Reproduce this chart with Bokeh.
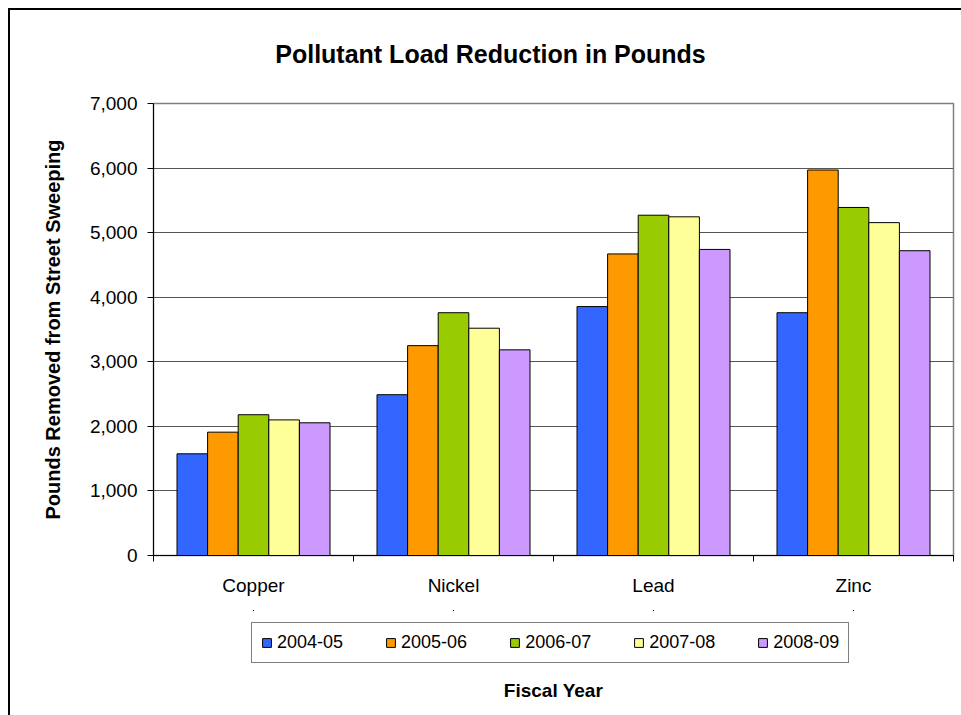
from bokeh.plotting import figure
from bokeh.layouts import column
from bokeh.models import (ColumnDataSource, Range1d, FixedTicker, Legend,
                          LegendItem, NumeralTickFormatter, Label)
from bokeh.transform import dodge
from bokeh.embed import file_html
from bokeh.resources import INLINE

# ---- data ----
categories = ["Copper", "Nickel", "Lead", "Zinc"]
years = ["2004-05", "2005-06", "2006-07", "2007-08", "2008-09"]
v_2004_05 = [1575, 2490, 3855, 3760]
v_2005_06 = [1910, 3250, 4670, 5970]
v_2006_07 = [2180, 3760, 5270, 5390]
v_2007_08 = [2100, 3520, 5245, 5155]
v_2008_09 = [2055, 3185, 4740, 4720]
series = [v_2004_05, v_2005_06, v_2006_07, v_2007_08, v_2008_09]
colors = ["#3366FF", "#FF9900", "#99CC00", "#FFFF99", "#CC99FF"]
y_ticks = [0, 1000, 2000, 3000, 4000, 5000, 6000, 7000]
title_text = "Pollutant Load Reduction in Pounds"
y_label = "Pounds Removed from Street Sweeping"
x_label = "Fiscal Year"

FONT = "Liberation Sans"

centers = [i + 0.5 for i in range(len(categories))]
data = {"xc": centers}
for y, vals in zip(years, series):
    data[y] = vals
src = ColumnDataSource(data)


def strip(height, y_range):
    f = figure(width=951, height=height, output_backend="svg", toolbar_location=None,
               x_range=Range1d(0, len(categories)), y_range=y_range,
               x_axis_location=None, y_axis_location=None,
               min_border=0, min_border_left=0, min_border_right=0,
               min_border_top=0, min_border_bottom=0)
    f.outline_line_color = None
    f.xgrid.grid_line_color = None
    f.ygrid.grid_line_color = None
    f.background_fill_color = "white"
    f.border_fill_color = "white"
    return f


# ---------------- title strip ----------------
tf = strip(70, Range1d(0, 1))
tf.add_layout(Label(x=337, y=27, x_units="screen", y_units="screen", text=title_text,
                    text_align="center", text_baseline="middle", text_font=FONT,
                    text_font_size="25px", text_font_style="bold", text_color="black"))

# ---------------- main chart ----------------
p = figure(width=951, height=530, output_backend="svg", toolbar_location=None,
           x_range=Range1d(0, len(categories)), y_range=Range1d(0, 7000),
           min_border_left=143, min_border_right=8, min_border_top=23, min_border_bottom=55)

p.outline_line_color = "#808080"
p.outline_line_width = 1.5
p.background_fill_color = "white"
p.border_fill_color = "white"

bar_w = 0.153
for j, (y, c) in enumerate(zip(years, colors)):
    p.vbar(x=dodge("xc", (j - 2) * bar_w, range=p.x_range), top=y, width=bar_w,
           source=src, fill_color=c, line_color="black", line_width=1)

p.xgrid.grid_line_color = None
p.ygrid.ticker = FixedTicker(ticks=y_ticks)
p.ygrid.grid_line_color = "#555555"
p.ygrid.grid_line_width = 1

ya = p.yaxis[0]
ya.ticker = FixedTicker(ticks=y_ticks)
ya.formatter = NumeralTickFormatter(format="0,0")
ya.major_tick_out = 6
ya.major_tick_in = 0
ya.minor_tick_line_color = None
ya.axis_line_color = "black"
ya.major_tick_line_color = "black"
ya.major_label_text_font = FONT
ya.major_label_text_font_size = "19px"
ya.major_label_text_color = "black"
ya.major_label_standoff = 10
ya.axis_label = y_label
ya.axis_label_text_font = FONT
ya.axis_label_text_font_size = "20px"
ya.axis_label_text_font_style = "bold"
ya.axis_label_text_color = "black"
ya.axis_label_standoff = 23

xa = p.xaxis[0]
xa.ticker = FixedTicker(ticks=centers, minor_ticks=list(range(len(categories) + 1)))
xa.major_label_overrides = {c: name for c, name in zip(centers, categories)}
xa.major_tick_line_color = None
xa.major_tick_out = 0
xa.major_tick_in = 0
xa.minor_tick_line_color = "black"
xa.minor_tick_out = 6
xa.minor_tick_in = 0
xa.axis_line_color = "black"
xa.major_label_text_font = FONT
xa.major_label_text_font_size = "19px"
xa.major_label_text_color = "black"
xa.major_label_standoff = 13

# ---------------- legend + x label strip ----------------
# legend proxies: zero-size bars outside the visible y range
lf = strip(105, Range1d(-3, -2))
legend_renderers = []
for y, c in zip(years, colors):
    r = lf.vbar(x="xc", top=y, bottom=y, width=0, source=src,
                fill_color=c, line_color="black", line_width=1)
    legend_renderers.append(r)

items = [LegendItem(label=y, renderers=[r]) for y, r in zip(years, legend_renderers)]
legend = Legend(items=items, orientation="horizontal", location=(98, 52),
                label_text_font=FONT, label_text_font_size="18px",
                label_text_color="black",
                glyph_width=11, glyph_height=11, label_standoff=5,
                spacing=42, padding=9, margin=0,
                border_line_color="black", border_line_width=1,
                background_fill_color="white", background_fill_alpha=1)
lf.add_layout(legend, "center")

lf.add_layout(Label(x=400, y=25, x_units="screen", y_units="screen", text=x_label,
                    text_align="center", text_baseline="middle", text_font=FONT,
                    text_font_size="19px", text_font_style="bold",
                    text_color="black"))

layout = column(tf, p, lf, spacing=0,
                styles={"margin-left": "8px", "margin-top": "8px",
                        "border-left": "2px solid black", "border-top": "2px solid black"})

open("out.html", "w").write(file_html(layout, INLINE))
